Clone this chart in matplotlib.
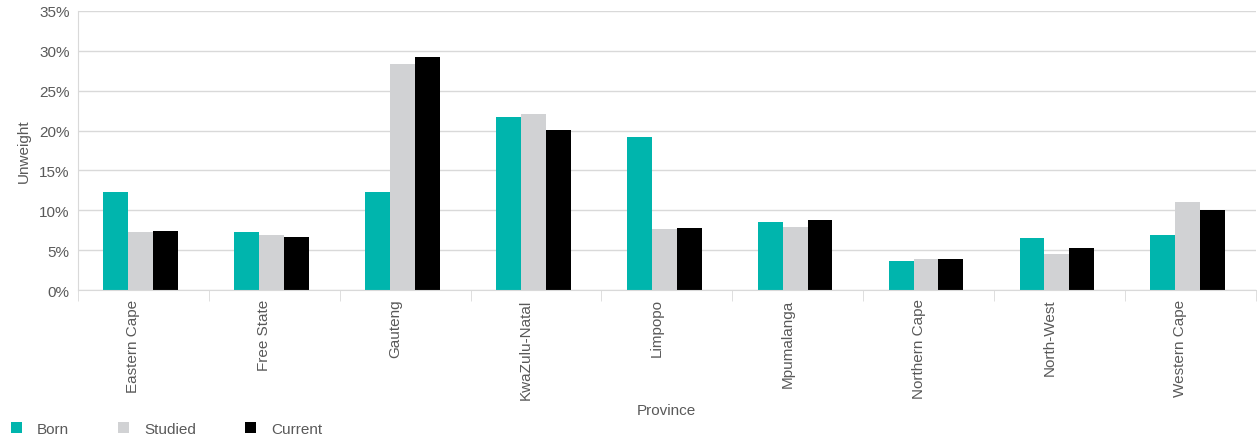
import numpy as np
import matplotlib.pyplot as plt
import matplotlib.transforms as mtransforms
from matplotlib.ticker import PercentFormatter, FixedLocator

plt.rcParams['font.family'] = ['Liberation Sans', 'DejaVu Sans']

provinces = ['Eastern Cape', 'Free State', 'Gauteng', 'KwaZulu-Natal', 'Limpopo',
             'Mpumalanga', 'Northern Cape', 'North-West', 'Western Cape']
born = [12.3, 7.3, 12.3, 21.7, 19.2, 8.5, 3.6, 6.5, 6.9]
studied = [7.3, 6.9, 28.4, 22.1, 7.65, 7.9, 3.9, 4.5, 11.0]
current = [7.4, 6.65, 29.2, 20.1, 7.8, 8.8, 3.9, 5.3, 10.0]

txt = '#595959'
grid = '#d9d9d9'

fig = plt.figure(figsize=(12.57, 4.39), dpi=100)
ax = fig.add_axes([0.062, 0.337, 0.937, 0.636])

x = np.arange(len(provinces))
w = 0.19
ax.bar(x - w - 0.02, born, w, color='#00b5ad', label='Born')
ax.bar(x - 0.02, studied, w, color='#d1d2d4', label='Studied')
ax.bar(x + w - 0.02, current, w, color='#000000', label='Current')

ax.set_xlim(-0.5, len(provinces) - 0.5)
ax.set_ylim(0, 35)
ax.set_yticks(np.arange(0, 36, 5))
ax.yaxis.set_major_formatter(PercentFormatter(decimals=0))
ax.grid(axis='y', color=grid, linewidth=1)
ax.set_axisbelow(True)

ax.set_xticks(x)
ax.set_xticklabels(provinces, rotation=90)
ax.xaxis.set_minor_locator(FixedLocator(np.arange(-0.5, len(provinces), 1)))
ax.tick_params(axis='x', which='major', length=0, pad=6, labelsize=11, labelcolor=txt)
ax.tick_params(axis='x', which='minor', length=8, color=grid)
ax.tick_params(axis='y', length=0, pad=6, labelsize=11, labelcolor=txt)

# labels sit a bit left of the category centre in the original
shift = mtransforms.ScaledTranslation(-10 / 100, 0, fig.dpi_scale_trans)
for lbl in ax.get_xticklabels():
    lbl.set_transform(lbl.get_transform() + shift)

for s in ['top', 'right']:
    ax.spines[s].set_visible(False)
ax.spines['left'].set_color(grid)
ax.spines['bottom'].set_color(grid)

ax.set_ylabel('Unweight', color=txt, fontsize=11, labelpad=6)
ax.set_xlabel('Province', color=txt, fontsize=11, labelpad=3)

fig.legend(loc='lower left', bbox_to_anchor=(-0.002, -0.027), ncol=3, frameon=False,
           handlelength=0.7, handleheight=0.7, columnspacing=3.2, handletextpad=1.0,
           fontsize=11, labelcolor=txt)

fig.savefig('out.png', dpi=100)
